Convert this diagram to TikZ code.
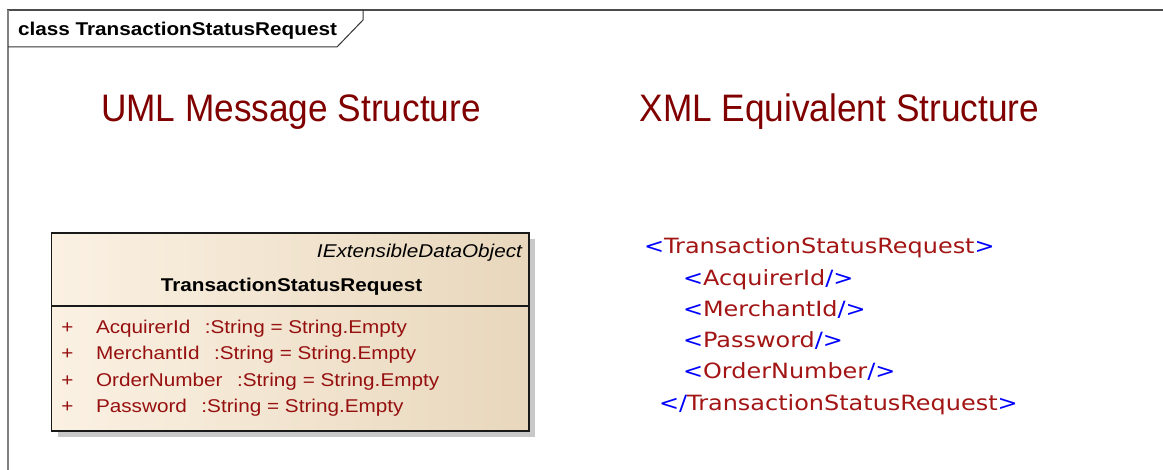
\documentclass[tikz,border=0pt]{standalone}
\usepackage{fontspec}
\setmainfont{Liberation Sans}
\newfontfamily\xmlfont{DejaVu Sans}
\usetikzlibrary{calc}
\definecolor{headred}{RGB}{128,0,0}
\definecolor{attrred}{RGB}{150,16,16}
\definecolor{xmlblue}{RGB}{0,0,255}
\definecolor{xmlred}{RGB}{163,21,21}
\definecolor{boxleft}{RGB}{251,241,227}
\definecolor{boxright}{RGB}{232,215,188}
\definecolor{shadowgray}{RGB}{200,200,200}
\newcommand{\hx}[1]{\scalebox{0.92}[1]{#1}}
\newcommand{\cx}[1]{\scalebox{1.12}[1]{#1}}
\newcommand{\xx}[1]{\scalebox{1.14}[1]{#1}}
\newcommand{\xlt}{\textcolor{xmlblue}{<}}
\newcommand{\xgt}{\textcolor{xmlblue}{>}}
\newcommand{\xsl}{\textcolor{xmlblue}{/}}
\newcommand{\xnm}[1]{\textcolor{xmlred}{#1}}
\begin{document}
\begin{tikzpicture}[x=1pt,y=-1pt,
  txt/.style={inner sep=0pt,outer sep=0pt},
  heading/.style={txt,anchor=base,text=headred,font=\fontsize{38.3}{40}\selectfont},
  umltxt/.style={txt,font=\fontsize{18.5}{20}\selectfont},
  attr/.style={umltxt,anchor=base west,text=attrred},
  plus/.style={umltxt,anchor=base,text=attrred},
  xmlline/.style={txt,anchor=base west,font=\fontsize{21}{23}\xmlfont}]
\useasboundingbox (0,0) rectangle (1163,470);
\fill[white] (0,0) rectangle (1163,470);
% frame
\draw[line width=1.2pt,color=black!70] (8,470) coordinate (fbl) -- (8,10) coordinate (ftl) -- (1163,10) coordinate (ftr);
\draw[line width=1.2pt,color=gray] (fbl) -- (ftl);
\draw[line width=1pt,color=black!80] (363,10) -- (363,20) -- (337,47) -- (8,47);
\node[umltxt,anchor=base west] (tab) at (18,36) {\cx{\bfseries class TransactionStatusRequest}};
% headings
\node[heading] (h1) at (291,121.7) {\hx{UML Message Structure}};
\node[heading] (h2) at (839.4,121.7) {\hx{XML Equivalent Structure}};
% class box
\fill[shadowgray] (57.5,238.7) rectangle (535,436.7);
\shade[left color=boxleft,right color=boxright] (51.5,232.7) rectangle (528.7,430.7);
\draw[line width=1.9pt,color=black!90] (51.5,232.7) rectangle (528.7,430.7);
\draw[line width=1.7pt,color=black!90] (51.5,306) -- (528.7,306);
\node[umltxt,anchor=base east] (iface) at (522,258) {\cx{\itshape IExtensibleDataObject}};
\node[umltxt,anchor=base] (cname) at (291.5,291.7) {\cx{\bfseries TransactionStatusRequest}};
\foreach \i/\t [count=\k from 0] in {
  AcquirerId/AcquirerId\hspace{0.7em}:String = String.Empty,
  MerchantId/MerchantId\hspace{0.7em}:String = String.Empty,
  OrderNumber/OrderNumber\hspace{0.7em}:String = String.Empty,
  Password/Password\hspace{0.7em}:String = String.Empty}{
  \node[plus] (p\i) at (67.5,{333.3+26.4*\k}) {\cx{+}};
  \node[attr] (a\i) at (96,{333.3+26.4*\k}) {\cx{\t}};
}
% XML
\node[xmlline] (x1) at (644,254) {\xx{\xlt\xnm{TransactionStatusRequest}\xgt}};
\node[xmlline] (x2) at (683,285.2) {\xx{\xlt\xnm{AcquirerId}\xsl\xgt}};
\node[xmlline] (x3) at (683,316.4) {\xx{\xlt\xnm{MerchantId}\xsl\xgt}};
\node[xmlline] (x4) at (683,347.6) {\xx{\xlt\xnm{Password}\xsl\xgt}};
\node[xmlline] (x5) at (683,378.8) {\xx{\xlt\xnm{OrderNumber}\xsl\xgt}};
\node[xmlline] (x6) at (659,410) {\xx{\xlt\xsl\xnm{TransactionStatusRequest}\xgt}};
\end{tikzpicture}
\end{document}
